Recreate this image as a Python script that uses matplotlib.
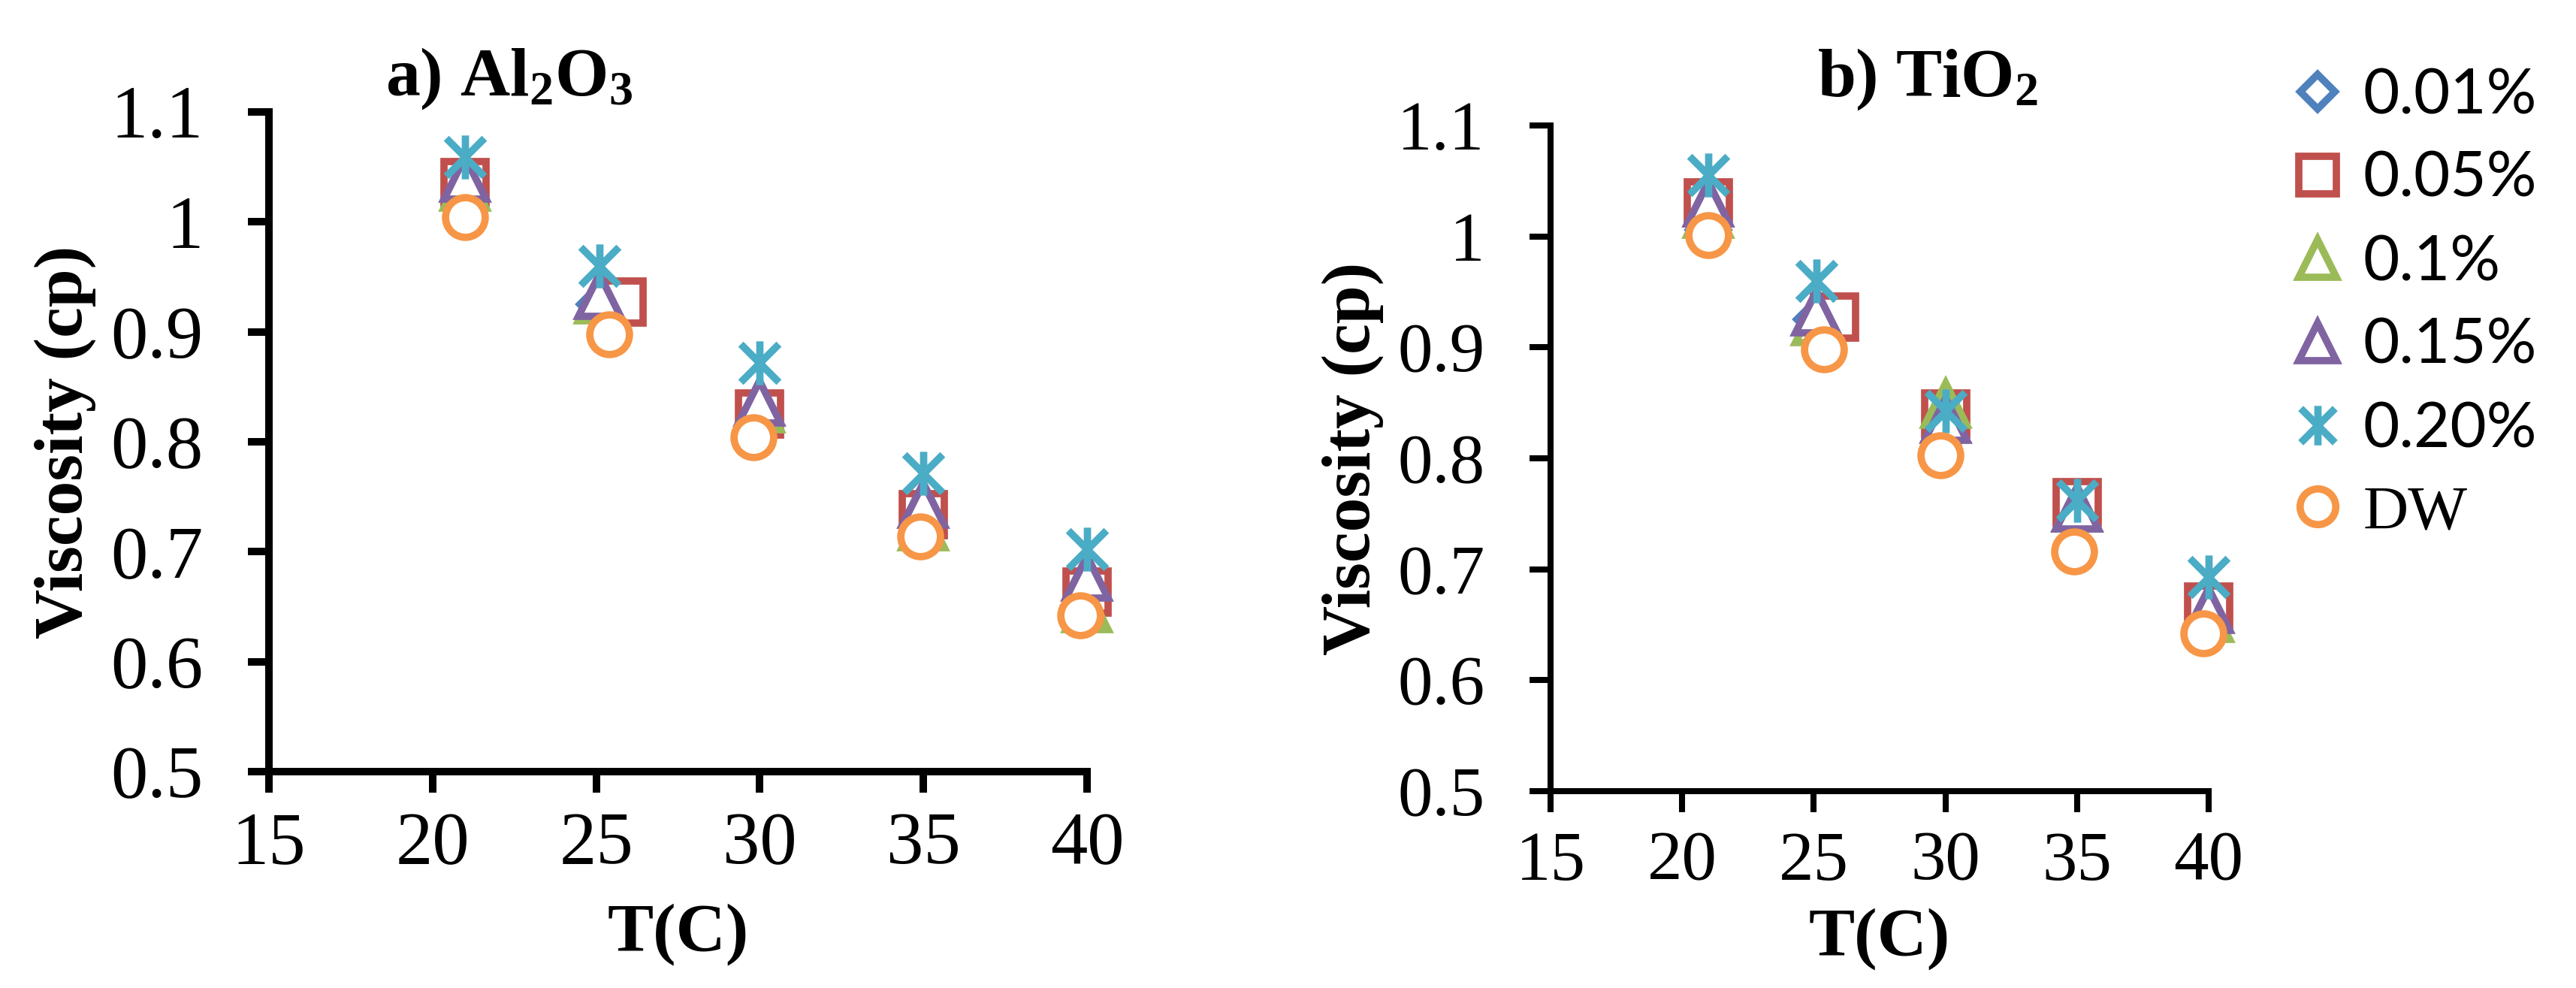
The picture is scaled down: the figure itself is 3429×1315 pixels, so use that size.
import numpy as np
import matplotlib
matplotlib.use("Agg")
import matplotlib.pyplot as plt
from matplotlib.path import Path

# ---- data ----
series = ["0.01%", "0.05%", "0.1%", "0.15%", "0.20%", "DW"]

T_main = [21, 25.1, 30, 35, 40]
T_sq = [21, 25.8, 30, 35, 40]
T_dw = [21, 25.4, 29.8, 34.9, 39.8]

al_001 = [1.026, 0.925, 0.818, 0.729, 0.655]
al_005 = [1.036, 0.927, 0.825, 0.734, 0.663]
al_01 = [1.032, 0.929, 0.830, 0.723, 0.648]
al_015 = [1.040, 0.933, 0.836, 0.743, 0.677]
al_020 = [1.059, 0.960, 0.872, 0.771, 0.702]
al_dw = [1.004, 0.898, 0.804, 0.714, 0.642]

ti_001 = [1.006, 0.925, 0.820, 0.745, 0.660]
ti_005 = [1.030, 0.927, 0.840, 0.760, 0.666]
ti_01 = [1.020, 0.923, 0.849, 0.755, 0.656]
ti_015 = [1.030, 0.932, 0.835, 0.755, 0.664]
ti_020 = [1.055, 0.960, 0.843, 0.762, 0.693]
ti_dw = [1.001, 0.898, 0.803, 0.716, 0.642]

xticks = [15, 20, 25, 30, 35, 40]
yticks = [0.5, 0.6, 0.7, 0.8, 0.9, 1.0, 1.1]
ylabels = ["0.5", "0.6", "0.7", "0.8", "0.9", "1", "1.1"]

# office 2007 colours
colors = ["#4F81BD", "#C0504D", "#9BBB59", "#8064A2", "#4BACC6", "#F79646"]

# star marker: X plus a vertical bar
star = Path(
    [(-1, -1), (1, 1), (-1, 1), (1, -1), (0, -1.15), (0, 1.15)],
    [Path.MOVETO, Path.LINETO, Path.MOVETO, Path.LINETO, Path.MOVETO, Path.LINETO],
)
markers = ["D", "s", "^", "^", star, "o"]
sizes = [26, 40, 40, 40, 42, 38]

serif = "Liberation Serif"
plt.rcParams["mathtext.fontset"] = "custom"
plt.rcParams["mathtext.rm"] = "Liberation Serif:bold"
plt.rcParams["mathtext.default"] = "rm"

W, H = 3430, 1315
fig = plt.figure(figsize=(W / 100, H / 100), dpi=100)


def box(x0, x1, y0, y1):
    return [x0 / W, 1 - y1 / H, (x1 - x0) / W, (y1 - y0) / H]


ax1 = fig.add_axes(box(358, 1447, 149, 1027))
ax2 = fig.add_axes(box(2064, 2940, 167, 1053))

data = [
    (ax1, [al_001, al_005, al_01, al_015, al_020, al_dw]),
    (ax2, [ti_001, ti_005, ti_01, ti_015, ti_020, ti_dw]),
]
xs = [T_main, T_sq, T_main, T_main, T_main, T_dw]

for ax, ys in data:
    for i in range(len(series)):
        ax.plot(
            xs[i], ys[i],
            linestyle="none",
            marker=markers[i],
            markersize=sizes[i],
            markerfacecolor="white" if i != 4 else "none",
            markeredgecolor=colors[i],
            markeredgewidth=7,
            color=colors[i],
            label=series[i],
            clip_on=False,
        )

setup = [
    (ax1, 7.2, 71, r"a) Al$_2$O$_3$", (0.294, 1.051), -0.249, -0.247),
    (ax2, 5.8, 67, r"b) TiO$_2$", (0.573, 1.069), -0.301, -0.222),
]
for ax, lw, fs, title, tpos, ylx, xly in setup:
    ax.set_xlim(15, 40)
    ax.set_ylim(0.5, 1.1)
    ax.set_xticks(xticks)
    ax.set_yticks(yticks)
    ax.set_yticklabels(ylabels)
    for s in ["top", "right"]:
        ax.spines[s].set_visible(False)
    for s in ["left", "bottom"]:
        ax.spines[s].set_linewidth(lw)
    ax.tick_params(axis="both", direction="out", length=20, width=lw,
                   labelsize=fs)
    ax.tick_params(axis="x", pad=18)
    ax.tick_params(axis="y", pad=43)
    for lab in ax.get_xticklabels() + ax.get_yticklabels():
        lab.set_family(serif)
    ax.set_ylabel("Viscosity (cp)", family=serif, fontweight="bold", fontsize=66)
    ax.yaxis.set_label_coords(ylx, 0.5)
    ax.yaxis.label.set_va("center")
    ax.set_xlabel("T(C)", family=serif, fontweight="bold", fontsize=66)
    ax.xaxis.set_label_coords(0.5, xly)
    ax.xaxis.label.set_va("center")
    ax.text(tpos[0], tpos[1], title, transform=ax.transAxes, ha="center",
            va="center", fontsize=66, family=serif, fontweight="bold")

handles, labels = ax2.get_legend_handles_labels()
leg = fig.legend(
    handles, labels,
    loc="upper left",
    bbox_to_anchor=(3043 / W, 1 - 90 / H),
    frameon=False,
    prop={"family": "Lato", "size": 60},
    handlelength=1.0,
    handletextpad=0.23,
    labelspacing=0.42,
    borderpad=0,
    borderaxespad=0,
    markerscale=0.9,
)
leg.get_texts()[-1].set_family(serif)

fig.savefig("out.png", dpi=100)
